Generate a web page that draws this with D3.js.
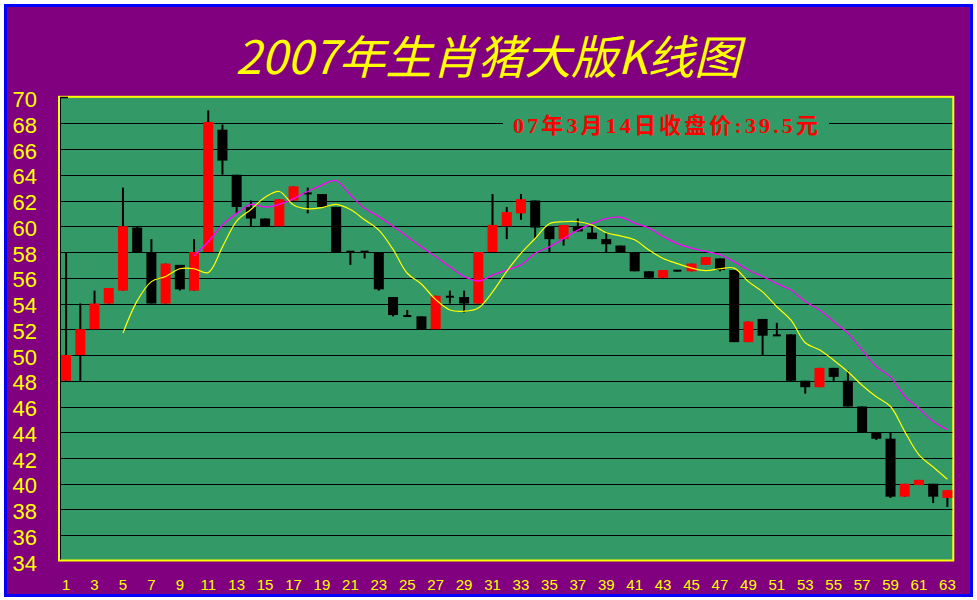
<!DOCTYPE html>
<html><head><meta charset="utf-8">
<script src="https://cdn.jsdelivr.net/npm/d3@7"></script>
<style>html,body{margin:0;padding:0;background:#fff;}svg{display:block;}</style>
</head><body>
<script>
const days = d3.range(1, 64);
const openV  = [48,50,52,54,55,59.9,58,54,57,55,58,67.5,64,61.5,60.6,60,62,62.6,62.5,61.5,58.05,58.05,58,54.5,53.05,53,52,54.55,54.5,54,58,60,61,62,60,59,60,59.5,59,58.5,58,56.5,56,56.6,56.5,57,57.5,56.6,51,52.8,51.55,51.6,48,47.5,49,48,46,44,43.5,39,39.9,40,38.9];
const highV  = [58,54,55,55.2,63,60,59,57.1,57,59,69,67.9,64,62,60.6,62.1,63.1,63,62.5,61.5,58.05,58.05,58,54.5,53.5,53,54.6,55,55,58,62.5,61.5,62.5,62,60,60.1,60.6,60,59.5,58.5,58,56.5,56.6,56.6,57.1,57.6,57.5,56.6,52.6,52.8,52.5,51.6,48,49,49,48.8,46,44,44,40,40.3,40,39.5];
const lowV   = [48,48,52,54,55,58,54,54,55,55,58,64,61,60,60,60,62,61,61.5,58,57,57.5,55,53,53,52,52,54,53.3,54,58,59,60.5,59,58,58.5,59.6,59,58,58,56.5,56,56,56.5,56.5,57,56.5,51,51,50,51.5,48,47,47.5,48,46,44,43.4,38.9,39,39.9,38.5,38.2];
const closeV = [50,52,54,55.2,60,58,54,57.1,55.1,58,68.1,65.1,61.5,60.6,60,62.1,63.1,62.5,61.5,58,58,58,55.1,53.1,53,52,54.6,54.5,54,58,60.1,61.1,62.1,59.9,59,60.1,59.6,59,58.6,58,56.5,56,56.6,56.5,57.1,57.6,56.6,51,52.6,51.5,51.5,48,47.5,49,48.3,46,44,43.5,39,40,40.3,39,39.5];
const ma5 = [null,null,null,null,51.7,54.2,55.7,56.1,56.7,56.7,56.4,58.4,60.4,61.3,62.25,62.7,61.65,61.35,61.45,61.7,61.3,60.5,59.7,58.2,56.35,55.5,54.3,53.5,53.4,53.65,54.9,56.5,57.9,59.05,60.2,60.35,60.35,60.1,59.5,59.25,58.95,58.15,57.5,57.1,56.75,56.55,56.7,56.75,55.7,54.9,53.75,52.7,50.95,50.4,49.6,48.7,47.65,46.75,46.0,44.05,42.25,41.3,40.35];
const ma10 = [null,null,null,null,null,null,null,null,null,57.7,58.8,60.1,61.0,61.7,61.5,61.7,62.15,62.7,63.2,63.55,62.45,61.4,60.75,60.0,59.2,58.4,57.65,56.85,56.1,55.75,56.2,56.6,57.0,57.9,58.4,59.05,59.7,60.2,60.6,60.7,60.25,59.85,59.2,58.65,58.3,58.05,57.8,57.25,56.6,56.1,55.55,55.05,54.15,53.5,52.6,51.7,50.4,49.1,48.3,46.8,45.85,44.85,44.2];
const yTicks = d3.range(34, 71, 2);
const gridTicks = d3.range(36, 69, 2);
const xLabels = d3.range(1, 64, 2);
const titleText = "2007年生肖猪大版K线图";
const noteText = "07年3月14日收盘价:39.5元";

const W = 977, H = 600;
const svg = d3.select("body").append("svg").attr("width", W).attr("height", H);
svg.append("rect").attr("width", W).attr("height", H).attr("fill", "#fff");
svg.append("rect").attr("x", 5.5).attr("y", 5.5).attr("width", 966).attr("height", 590)
  .attr("fill", "#800080").attr("stroke", "#0000ff").attr("stroke-width", 3);

const x = d3.scaleBand().domain(days).range([59, 954.5]);
const y = d3.scaleLinear().domain([34, 70]).range([561, 97.5]);
const cx = d => x(d) + x.bandwidth() / 2;

// plot area
svg.append("rect").attr("x", 59).attr("y", 96.8).attr("width", 894.3).attr("height", 463.7)
  .attr("fill", "#339966").attr("stroke", "#ffff00").attr("stroke-width", 2);

// gridlines
svg.append("g").selectAll("line").data(gridTicks).join("line")
  .attr("x1", 60).attr("x2", 952.3)
  .attr("y1", d => Math.round(y(d)) + 0.5).attr("y2", d => Math.round(y(d)) + 0.5)
  .attr("stroke", "#000").attr("stroke-width", 1);
// axis line and top tick
svg.append("line").attr("x1", 60.5).attr("x2", 60.5).attr("y1", 97.5).attr("y2", 559.5).attr("stroke", "#000");
svg.append("line").attr("x1", 60).attr("x2", 68).attr("y1", 97.5).attr("y2", 97.5).attr("stroke", "#000").attr("stroke-width", 1.5);

// title
svg.append("text").attr("x", 488).attr("y", 74).attr("text-anchor", "middle")
  .attr("font-family", "'Noto Sans CJK SC', sans-serif").attr("font-size", 46)
  .attr("font-style", "italic").attr("fill", "#ffff00")
  .attr("textLength", 505).attr("lengthAdjust", "spacingAndGlyphs")
  .text(titleText);

// y axis labels
const yAxis = svg.append("g").attr("transform", "translate(37,0)")
  .call(d3.axisLeft(y).tickValues(yTicks).tickSize(0).tickPadding(0).tickFormat(d3.format("d")));
yAxis.select(".domain").remove();
yAxis.selectAll("text").attr("fill", "#ffff00").attr("font-size", 22)
  .attr("font-family", "'Liberation Sans', Arial, sans-serif").attr("dy", "0.41em");

// x axis labels
const xAxis = svg.append("g").attr("transform", "translate(0,561)")
  .call(d3.axisBottom(x).tickValues(xLabels).tickSize(0).tickPadding(18.4));
xAxis.select(".domain").remove();
xAxis.selectAll("text").attr("fill", "#ffff00").attr("font-size", 15)
  .attr("font-family", "'Liberation Sans', Arial, sans-serif");

// candles
const candles = days.map((d, i) => ({d, o: openV[i], h: highV[i], l: lowV[i], c: closeV[i]}));
const cg = svg.append("g");
cg.selectAll("line.wick").data(candles).join("line").attr("class", "wick")
  .attr("x1", d => cx(d.d)).attr("x2", d => cx(d.d))
  .attr("y1", d => y(d.h)).attr("y2", d => y(d.l))
  .attr("stroke", "#000").attr("stroke-width", 2);
cg.selectAll("rect.body").data(candles).join("rect").attr("class", "body")
  .attr("x", d => { const w = Math.abs(d.c - d.o) < 0.12 ? 8 : 10; return cx(d.d) - w / 2; })
  .attr("width", d => Math.abs(d.c - d.o) < 0.12 ? 8 : 10)
  .attr("y", d => { const t = y(Math.max(d.o, d.c)), b = y(Math.min(d.o, d.c)); return b - t < 2 ? (t + b) / 2 - 1 : t; })
  .attr("height", d => Math.max(2, y(Math.min(d.o, d.c)) - y(Math.max(d.o, d.c))))
  .attr("fill", d => d.c > d.o ? "#ff0000" : "#000");

// moving averages
const line = d3.line().defined(d => d.v != null).x(d => cx(d.d)).y(d => y(d.v)).curve(d3.curveCatmullRom);
svg.append("path").datum(days.map((d, i) => ({d, v: ma10[i]}))).attr("d", line)
  .attr("fill", "none").attr("stroke", "#ff00ff").attr("stroke-width", 1.3);
svg.append("path").datum(days.map((d, i) => ({d, v: ma5[i]}))).attr("d", line)
  .attr("fill", "none").attr("stroke", "#ffff00").attr("stroke-width", 1.2);

// annotation
svg.append("rect").attr("x", 503).attr("y", 114).attr("width", 326).attr("height", 22).attr("fill", "#339966");
svg.append("text").attr("x", 513).attr("y", 132.5).attr("fill", "#ff0000")
  .attr("font-family", "'Liberation Serif', 'Noto Sans CJK SC', serif").attr("font-weight", "bold")
  .attr("font-size", 22).attr("textLength", 305).attr("lengthAdjust", "spacing")
  .text(noteText);
</script>
</body></html>
